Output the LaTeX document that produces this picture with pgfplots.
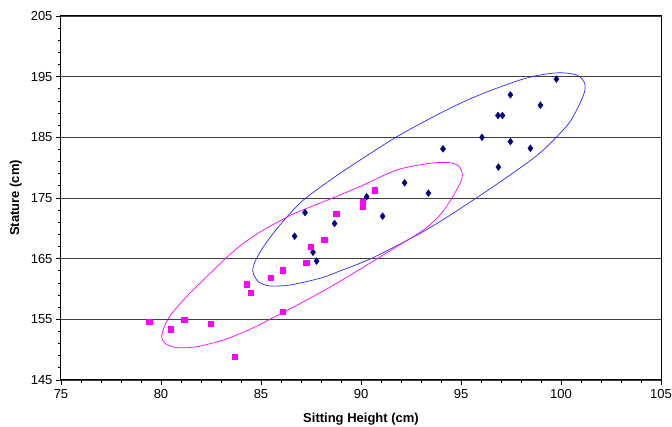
\documentclass[border=0pt]{standalone}
\usepackage{pgfplots}
\pgfplotsset{compat=1.18}
\usepackage{fontspec}
\setmainfont{Liberation Sans}
\usetikzlibrary{calc}

\definecolor{navy}{RGB}{0,0,128}
\definecolor{pink}{RGB}{255,0,255}
\definecolor{ellblue}{RGB}{40,40,255}

\begin{document}
\begin{tikzpicture}
  \begin{axis}[
    scale only axis,
    width=600pt,
    height=364pt,
    xmin=75, xmax=105,
    ymin=145, ymax=205,
    xtick={75,80,...,105},
    ytick={145,155,...,205},
    minor x tick num=4,
    minor y tick num=4,
    tick align=outside,
    tick pos=left,
    major tick length=5pt,
    minor tick length=3pt,
    every tick/.style={black, line width=0.8pt},
    ymajorgrids,
    major grid style={black!75, line width=0.9pt},
    axis line style={black, line width=1pt},
    font=\fontsize{13pt}{15pt}\selectfont,
    /pgf/number format/assume math mode=true,
    ticklabel style={font=\fontsize{13pt}{15pt}\selectfont},
    xticklabel style={yshift=-1pt},
    xlabel={\bfseries Sitting Height (cm)},
    ylabel={\bfseries Stature (cm)},
    xlabel style={yshift=-7pt},
    ylabel style={yshift=2pt},
    clip=false,
  ]

    % confidence ellipses
    \addplot[ellblue, line width=0.7pt, smooth, tension=0.5] coordinates {
      (88.95,179.07) (91.79,185.1) (94.45,189.79) (96.12,192.26)
      (97.95,194.45) (98.95,195.27) (99.95,195.65) (100.79,195.27)
      (101.15,194.17) (101.2,192.8) (100.95,190.61) (100.45,187.58)
      (99.79,185.1) (98.62,181.55) (95.95,175.4) (93.29,169.8)
      (90.62,165.2) (88.95,162.97) (87.95,161.77)
      (86.45,160.66) (85.45,160.5) (84.87,161.2) (84.59,162.85)
      (84.7,164.5) (85.12,166.97) (85.95,170.55) (87.12,174.67)
      (88.95,179.07)
    };
    \addplot[pink, line width=0.7pt, smooth, tension=0.5] coordinates {
      (86.62,172.4) (88.95,175.5) (90.12,177.14) (91.79,179.62)
      (93.45,180.72) (94.45,180.82) (94.92,180.16) (95.07,178.79)
      (94.95,177.42) (94.54,174.95) (93.95,172.2) (93.12,169.73)
      (91.6,166.6) (88.45,160.3)
      (85.62,155.3) (84.45,153.36) (83.12,151.6) (81.79,150.49)
      (80.79,150.33) (80.2,151.05) (80.04,152.42) (80.37,155.17)
      (81.12,158.19) (82.12,161.49) (83.62,166.2) (84.95,169.4)
      (86.62,172.4)
    };

    % group 1
    \addplot[only marks, mark=diamond*, mark size=3.4pt, navy] coordinates {
      (90.28,175.2) (91.08,172.0) (87.2,172.6) (88.68,170.8)
      (86.68,168.7) (87.6,166.05) (87.78,164.6) (99.77,194.6)
      (97.47,192.0) (98.97,190.3) (96.85,188.6) (97.07,188.6)
      (96.05,185.0) (97.47,184.3) (98.47,183.2) (94.1,183.1)
      (96.87,180.1) (92.18,177.5) (93.37,175.8)
    };

    % group 2
    \addplot[only marks, mark=square*, mark size=2.7pt, pink] coordinates {
      (79.4,154.6) (80.48,153.4) (81.15,154.9) (82.48,154.3)
      (83.67,148.8) (84.27,160.8) (84.48,159.4) (85.48,161.9)
      (86.07,163.1) (86.07,156.3) (87.25,164.3) (87.47,167.0)
      (88.15,168.1) (88.75,172.4) (90.67,176.3) (90.07,174.3)
      (90.07,173.6)
    };
  \end{axis}
  \pgfresetboundingbox
  \path ($(current axis.south west)+(-61pt,-47pt)$) rectangle ($(current axis.north east)+(11pt,16pt)$);
\end{tikzpicture}
\end{document}
